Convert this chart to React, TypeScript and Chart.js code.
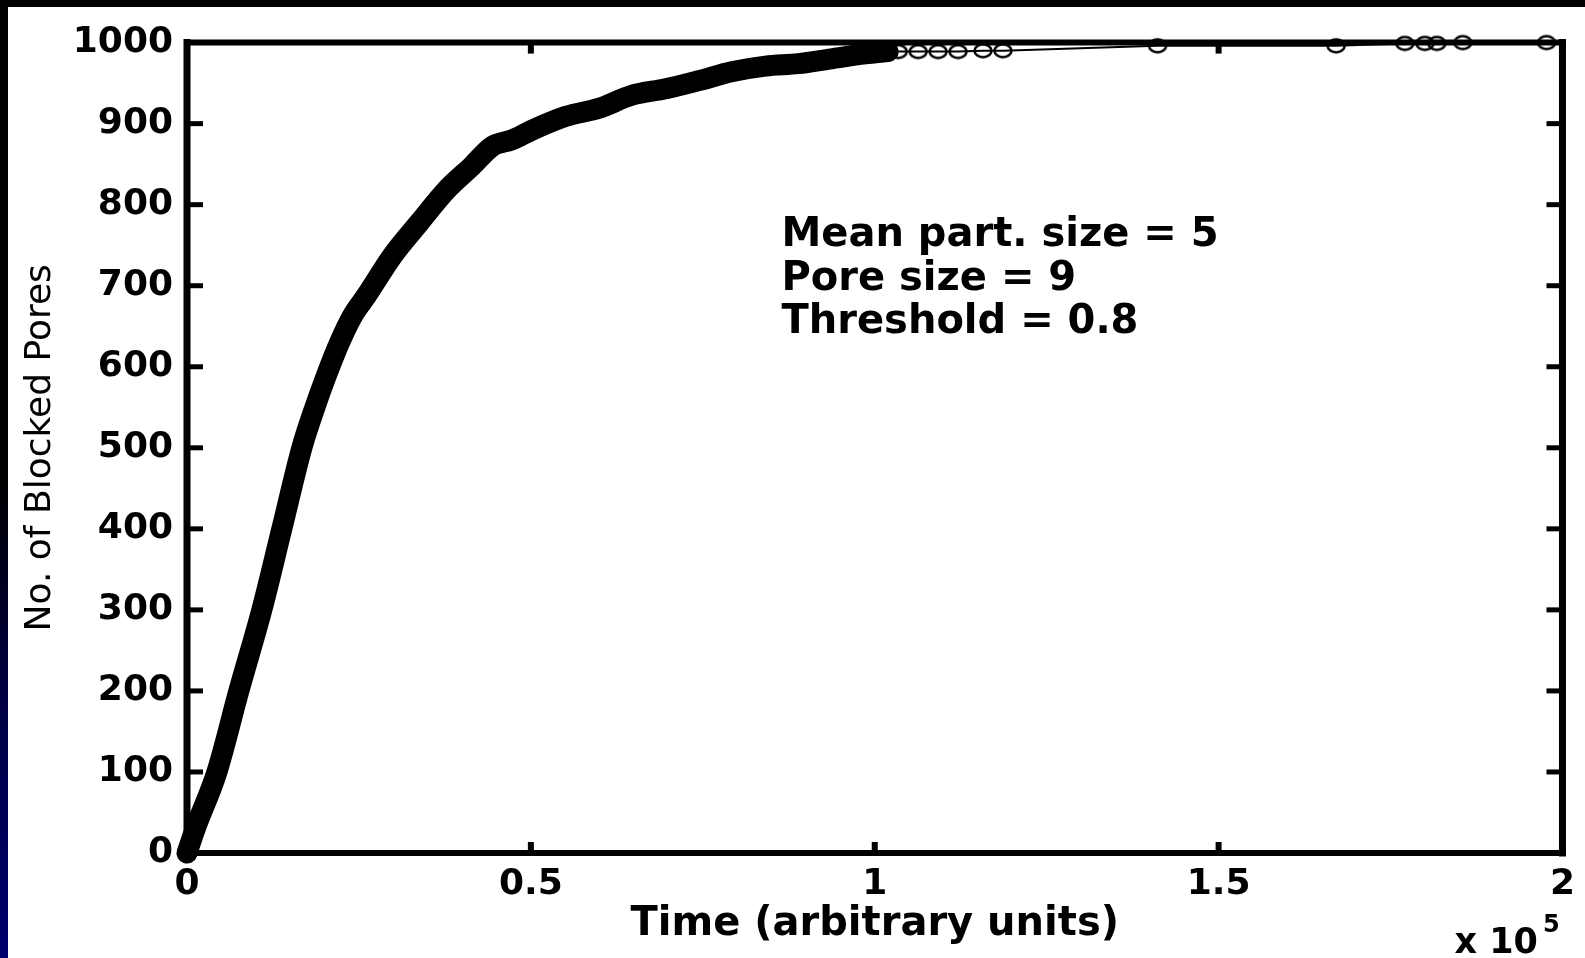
import React, { useEffect, useRef } from "react";
import { Chart, registerables } from "chart.js";

Chart.register(...registerables);

// Time in arbitrary units (axis is labelled in units of 10^5)
const bandTime = [0, 1200, 4350, 7540, 10880, 13790, 16700, 18600, 20300, 22190, 24080, 26110, 29880, 33790, 37710, 41480, 44380, 47280, 50180, 55110, 59900, 64680, 69620, 74400, 79190, 84120, 88910, 93690, 98620, 101960];
const bandPores = [0, 30, 100, 200, 300, 400, 500, 550, 590, 630, 663, 688, 737, 778, 818, 848, 872, 880, 892, 909, 919, 935, 943, 953, 964, 971, 974, 980, 986, 989];

const tailTime = [103410, 106310, 109210, 112110, 115740, 118640, 141120, 167080, 177080, 179990, 181730, 185500, 197680];
const tailPores = [989, 989, 989, 989, 990, 990, 996, 996, 999, 999, 999, 1000, 1000];

const xTickLabels = ["0", "0.5", "1", "1.5", "2"];
const xMultiplier = "x 10";
const xExponent = "5";

const annotationLines = ["Mean part. size = 5", "Pore size = 9", "Threshold = 0.8"];
const annotationAt = { x: 86440, y: 749 };

const FONT = '"DejaVu Sans", "Liberation Sans", sans-serif';

function makeEllipse(): HTMLCanvasElement {
  const c = document.createElement("canvas");
  c.width = 22;
  c.height = 18;
  const g = c.getContext("2d")!;
  g.strokeStyle = "#000";
  g.lineWidth = 2.5;
  g.beginPath();
  g.ellipse(11, 9, 8.5, 6.5, 0, 0, Math.PI * 2);
  g.stroke();
  return c;
}

const boxPlugin = {
  id: "matlabBox",
  beforeDatasetsDraw(chart: any) {
    const { ctx, chartArea, scales } = chart;
    const { left, right, top, bottom } = chartArea;
    const x = scales.x;
    const y = scales.y;
    const line = (a: number, b: number, c: number, d: number) => {
      ctx.beginPath();
      ctx.moveTo(a, b);
      ctx.lineTo(c, d);
      ctx.stroke();
    };
    ctx.save();
    ctx.strokeStyle = "#000";
    ctx.lineCap = "square";
    ctx.lineWidth = 6;
    line(left, top, right, top);
    line(left, bottom, right, bottom);
    ctx.lineWidth = 7;
    line(left, top, left, bottom);
    line(right, top, right, bottom);
    ctx.lineCap = "butt";
    ctx.lineWidth = 5;
    y.ticks.forEach((t: any) => {
      if (t.value <= y.min || t.value >= y.max) return;
      const py = y.getPixelForValue(t.value);
      line(left, py, left + 16, py);
      line(right, py, right - 16, py);
    });
    ctx.lineWidth = 6;
    x.ticks.forEach((t: any) => {
      if (t.value <= x.min || t.value >= x.max) return;
      const px = x.getPixelForValue(t.value);
      line(px, bottom, px, bottom - 11);
      line(px, top, px, top + 11);
    });
    ctx.restore();
  },
  afterDraw(chart: any) {
    const { ctx, chartArea, scales } = chart;
    ctx.save();
    ctx.fillStyle = "#000";
    ctx.textAlign = "left";
    ctx.textBaseline = "alphabetic";
    // annotation
    ctx.font = `bold 40px ${FONT}`;
    const ax = scales.x.getPixelForValue(annotationAt.x);
    const ay = scales.y.getPixelForValue(annotationAt.y);
    annotationLines.forEach((s, i) => ctx.fillText(s, ax, ay + i * 43.5));
    // exponent label
    ctx.font = `bold 35px ${FONT}`;
    const ex = chartArea.right - 108;
    const ey = chartArea.bottom + 100;
    ctx.fillText(xMultiplier, ex, ey);
    const w = ctx.measureText(xMultiplier).width;
    ctx.font = `bold 24px ${FONT}`;
    ctx.fillText(xExponent, ex + w + 5, ey - 21);
    ctx.restore();
  },
};

export default function App() {
  const ref = useRef<HTMLCanvasElement | null>(null);

  useEffect(() => {
    if (!ref.current) return;
    const ellipse = makeEllipse();
    const chart = new Chart(ref.current, {
      type: "line",
      data: {
        datasets: [
          {
            label: "band",
            data: bandTime.map((t, i) => ({ x: t, y: bandPores[i] })),
            borderColor: "#000",
            borderWidth: 21,
            pointRadius: 0,
            borderCapStyle: "round",
            borderJoinStyle: "round",
            cubicInterpolationMode: "monotone",
            fill: false,
            clip: false as any,
          },
          {
            label: "tail",
            data: tailTime.map((t, i) => ({ x: t, y: tailPores[i] })),
            borderColor: "#000",
            borderWidth: 2,
            pointStyle: ellipse as any,
            pointRadius: 9,
            pointBorderColor: "#000",
            pointBackgroundColor: "rgba(0,0,0,0)",
            tension: 0,
            fill: false,
            clip: false as any,
          },
        ],
      },
      options: {
        animation: false,
        responsive: false,
        maintainAspectRatio: false,
        layout: { padding: { left: 0, top: 32, right: 19, bottom: 0 } },
        plugins: { legend: { display: false }, tooltip: { enabled: false } },
        scales: {
          x: {
            type: "linear",
            min: 0,
            max: 200000,
            afterFit: (s: any) => {
              s.height = 105;
            },
            grid: { display: false, drawTicks: false },
            border: { display: false },
            ticks: {
              stepSize: 50000,
              padding: 10,
              maxRotation: 0,
              autoSkip: false,
              color: "#000",
              font: { family: FONT, size: 36, weight: "bold" },
              callback: (v: any) => xTickLabels[Math.round(Number(v) / 50000)] ?? "",
            },
            title: {
              display: true,
              text: "Time (arbitrary units)",
              color: "#000",
              font: { family: FONT, size: 40, weight: "bold" },
              padding: { top: 0, bottom: 9 },
            },
          },
          y: {
            type: "linear",
            min: 0,
            max: 1000,
            afterFit: (s: any) => {
              s.width = 179;
            },
            grid: { display: false, drawTicks: false },
            border: { display: false },
            ticks: {
              stepSize: 100,
              padding: 14,
              autoSkip: false,
              color: "#000",
              font: { family: FONT, size: 36, weight: "bold" },
              callback: (v: any) => String(v),
            },
            title: {
              display: true,
              text: "No. of Blocked Pores",
              color: "#000",
              font: { family: FONT, size: 36, weight: "normal" },
              padding: { top: 11, bottom: 0 },
            },
          },
        },
      },
      plugins: [boxPlugin],
    });
    return () => chart.destroy();
  }, []);

  return (
    <div style={{ position: "fixed", inset: 0, background: "#000", overflow: "hidden" }}>
      <div
        style={{
          position: "absolute",
          left: 0,
          top: 0,
          bottom: 0,
          width: 8,
          background: "linear-gradient(to bottom, #000 0%, #000 50%, #000040 72%, #00006e 100%)",
        }}
      />
      <div style={{ position: "absolute", left: 8, top: 7, width: 1577, height: 951, background: "#fff" }}>
        <canvas ref={ref} width={1577} height={951} style={{ display: "block" }} />
      </div>
    </div>
  );
}
